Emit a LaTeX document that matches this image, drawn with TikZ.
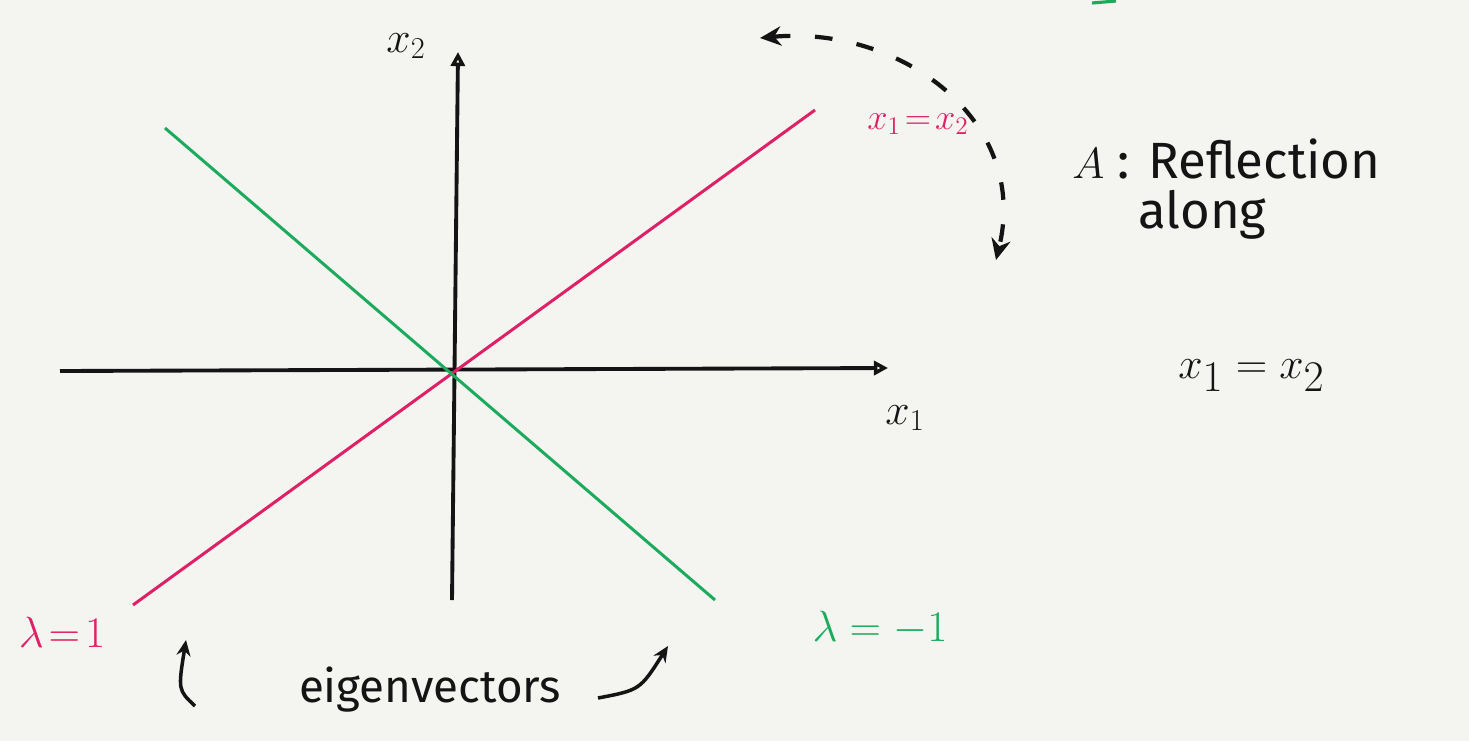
\documentclass[tikz,border=0pt]{standalone}
\usepackage{fontspec}
\setmainfont{Fira Sans}
\usetikzlibrary{arrows.meta}
\definecolor{paper}{RGB}{244,244,241}
\definecolor{pinkline}{RGB}{222,32,102}
\definecolor{greenline}{RGB}{28,170,92}
\definecolor{ink}{RGB}{20,20,20}
\tikzset{
  axis/.style={draw=ink,line width=2.2pt,-{Triangle[open,length=8pt,width=8pt]}},
  eigpink/.style={draw=pinkline,line width=1.7pt},
  eiggreen/.style={draw=greenline,line width=1.7pt},
  lbl/.style={text=ink,font=\fontsize{26}{30}\selectfont,inner sep=0pt},
  bigtxt/.style={text=ink,font=\fontsize{29}{34}\selectfont,inner sep=0pt,anchor=base west},
  pinktxt/.style={text=pinkline,font=\fontsize{22}{26}\selectfont,inner sep=0pt},
  greentxt/.style={text=greenline,font=\fontsize{22}{26}\selectfont,inner sep=0pt},
  pointer/.style={draw=ink,line width=2pt,-{Stealth[length=9pt,width=8pt]}},
  dasharc/.style={draw=ink,line width=2.4pt,dash pattern=on 10pt off 14pt,{Stealth[length=12pt,width=11pt]}-{Stealth[length=12pt,width=11pt]}}
}
\begin{document}
\begin{tikzpicture}[x=0.02cm,y=-0.02cm]
\fill[paper] (0,0) rectangle (1469,741);
\useasboundingbox (0,0) rectangle (1469,741);
% axes
\coordinate (xs) at (60,371);
\coordinate (xe) at (888,368);
\coordinate (ys) at (452,600);
\coordinate (ye) at (458,52);
\draw[axis] (xs) -- (xe);
\draw[axis] (ys) -- (ye);
\node[lbl] (x1) at (905,418) {$x_1$};
\node[lbl] (x2) at (406,46) {$x_2$};
% eigenvector lines
\coordinate (p1) at (133,605);
\coordinate (p2) at (815,110);
\coordinate (g1) at (165,128);
\coordinate (g2) at (715,600);
\draw[eigpink] (p1) -- (p2);
\draw[eiggreen] (g1) -- (g2);
% labels on lines
\node[pinktxt] (lineeq) at (918,124) {$x_1\!=\!x_2$};
\node[pinktxt,font=\fontsize{26}{30}\selectfont] (lam1) at (62,632) {$\lambda\!=\!1$};
\node[greentxt,font=\fontsize{26}{30}\selectfont] (lamm1) at (880,628) {$\lambda = -1$};
% eigenvectors text and pointers
\node[lbl] (eig) at (430,690) {eigenvectors};
\coordinate (lt) at (195,706);
\coordinate (lh) at (186,640);
\draw[pointer] (lt) .. controls (178,690) .. (lh);
\coordinate (rt) at (598,698);
\coordinate (rh) at (668,646);
\draw[pointer] (rt) .. controls (640,690) .. (rh);
% dashed reflection arc
\coordinate (a1) at (760,38);
\coordinate (a2) at (996,260);
\draw[dasharc] (a1) .. controls (900,25) and (1030,120) .. (a2);
% right text
\node[bigtxt] (t1) at (1072,178) {$A$ : Reflection};
\node[bigtxt] (t2) at (1138,228) {along};
\node[bigtxt,font=\fontsize{33}{38}\selectfont] (t3) at (1178,378) {$x_1 = x_2$};
% cropped green fragment at top
\coordinate (gf1) at (1092,3);
\coordinate (gf2) at (1116,1);
\draw[greenline,line width=1.8pt] (gf1) -- (gf2);
\end{tikzpicture}
\end{document}
